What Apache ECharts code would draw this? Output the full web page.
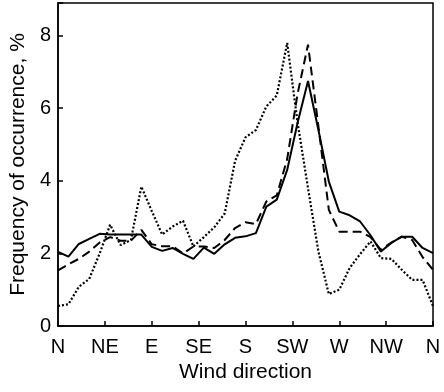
<!DOCTYPE html>
<html>
<head>
<meta charset="utf-8">
<script src="https://cdn.jsdelivr.net/npm/echarts@6/dist/echarts.min.js"></script>
<style>
  html, body { margin: 0; padding: 0; background: #fff; }
  #chart { width: 444px; height: 392px; }
</style>
</head>
<body>
<div id="chart"></div>
<script>
// wind direction in degrees, every 10 degrees from N round to N
const directions = [0, 10, 20, 30, 40, 50, 60, 70, 80, 90, 100, 110, 120, 130, 140, 150, 160, 170, 180,
  190, 200, 210, 220, 230, 240, 250, 260, 270, 280, 290, 300, 310, 320, 330, 340, 350, 360];

const tickLabels = ["N", "NE", "E", "SE", "S", "SW", "W", "NW", "N"];

// frequency of occurrence, %
const solidValues = [2.04, 1.91, 2.26, 2.4, 2.54, 2.52, 2.52, 2.52, 2.52, 2.18, 2.07, 2.15, 1.99, 1.85, 2.16, 1.99, 2.25, 2.43, 2.47,
  2.56, 3.29, 3.48, 4.3, 5.6, 6.75, 5.4, 3.98, 3.15, 3.05, 2.88, 2.5, 2.05, 2.29, 2.46, 2.46, 2.15, 2.01];
const dashedValues = [1.53, 1.7, 1.85, 2.05, 2.3, 2.45, 2.35, 2.35, 2.65, 2.25, 2.2, 2.2, 2.0, 2.19, 2.19, 2.15, 2.37, 2.7, 2.86,
  2.81, 3.43, 3.6, 4.6, 6.4, 7.75, 5.5, 3.2, 2.6, 2.6, 2.6, 2.45, 2.1, 2.3, 2.46, 2.37, 1.9, 1.55];
const dottedValues = [0.55, 0.6, 1.08, 1.3, 2.0, 2.79, 2.23, 2.37, 3.84, 3.17, 2.52, 2.74, 2.9, 2.19, 2.45, 2.72, 3.1, 4.55, 5.2,
  5.4, 6.05, 6.35, 7.8, 5.6, 3.8, 2.05, 0.88, 1.0, 1.6, 1.98, 2.33, 1.87, 1.85, 1.55, 1.27, 1.27, 0.55];

const chart = echarts.init(document.getElementById("chart"));

const font = "Liberation Sans, Arial, sans-serif";

function makeSeries(values, type, width) {
  return {
    type: "line",
    data: directions.map((d, i) => [d, values[i]]),
    showSymbol: false,
    lineStyle: { color: "#000", width: width, type: type },
    silent: true,
  };
}

chart.setOption({
  animation: false,
  grid: {
    left: 58,
    right: 11,
    top: 3,
    bottom: 66,
    show: true,
    borderColor: "#000",
    borderWidth: 1.5,
  },
  xAxis: {
    type: "value",
    min: 0,
    max: 360,
    interval: 45,
    name: "Wind direction",
    nameLocation: "middle",
    nameGap: 32,
    nameTextStyle: { fontSize: 21, color: "#000", fontFamily: font },
    axisLine: { lineStyle: { color: "#000", width: 1.5 } },
    axisTick: { inside: true, length: 5, lineStyle: { color: "#000", width: 1.5 } },
    axisLabel: {
      fontSize: 20,
      color: "#000",
      fontFamily: font,
      margin: 11,
      formatter: (v) => tickLabels[Math.round(v / 45)],
    },
    splitLine: { show: false },
  },
  yAxis: {
    type: "value",
    min: 0,
    max: 8.9,
    interval: 2,
    name: "Frequency of occurrence, %",
    nameLocation: "middle",
    nameGap: 24,
    nameTextStyle: { fontSize: 21, color: "#000", fontFamily: font },
    axisLine: { lineStyle: { color: "#000", width: 1.5 } },
    axisTick: { inside: true, length: 5, lineStyle: { color: "#000", width: 1.5 } },
    axisLabel: {
      fontSize: 20,
      color: "#000",
      fontFamily: font,
      margin: 7,
      formatter: (v) => (v % 2 === 0 ? String(v) : ""),
    },
    splitLine: { show: false },
  },
  series: [
    makeSeries(solidValues, "solid", 2),
    makeSeries(dashedValues, [9, 5], 2),
    makeSeries(dottedValues, [2, 2], 2.2),
  ],
});
</script>
</body>
</html>
